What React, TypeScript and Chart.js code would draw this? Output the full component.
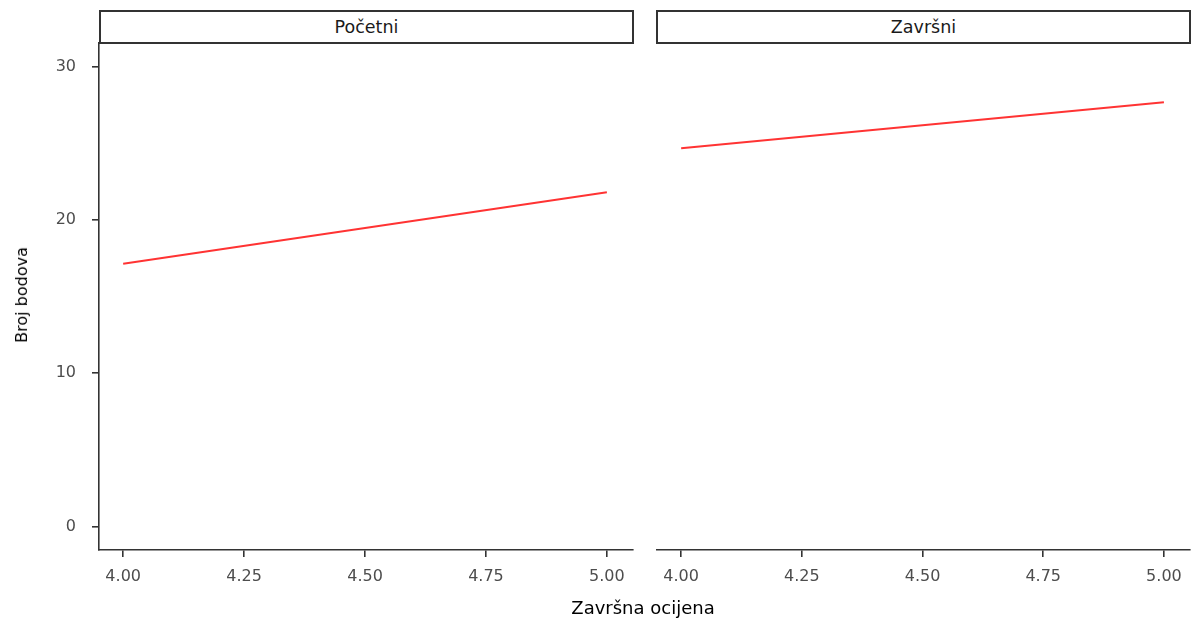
import React, { useEffect, useRef } from "react";
import { Chart, registerables } from "chart.js";

Chart.register(...registerables);

const PANELS = ["Početni", "Završni"];
const X_VALUES = [4.0, 5.0];
const POCETNI_VALUES = [17.14, 21.8];
const ZAVRSNI_VALUES = [24.67, 27.67];
const X_TICKS = [4.0, 4.25, 4.5, 4.75, 5.0];
const Y_TICKS = [0, 10, 20, 30];
const X_TITLE = "Završna ocijena";
const Y_TITLE = "Broj bodova";

const FONT = "'DejaVu Sans', sans-serif";
const AXIS_COLOR = "#333333";
const TICK_TEXT = "#4d4d4d";

function makeConfig(values: number[], showY: boolean): any {
  return {
    type: "line",
    data: {
      datasets: [
        {
          data: X_VALUES.map((x, i) => ({ x, y: values[i] })),
          borderColor: "#ff3333",
          borderWidth: 2,
          pointRadius: 0,
          fill: false,
          tension: 0,
        },
      ],
    },
    options: {
      animation: false,
      responsive: false,
      devicePixelRatio: 1,
      layout: {
        padding: showY
          ? { top: 43, left: 0, right: 12, bottom: 0 }
          : { top: 43, left: 12, right: 6, bottom: 0 },
      },
      plugins: { legend: { display: false }, tooltip: { enabled: false } },
      scales: {
        x: {
          type: "linear",
          min: 3.95,
          max: 5.054,
          afterBuildTicks: (s: any) => {
            s.ticks = X_TICKS.map((v) => ({ value: v }));
          },
          afterFit: (s: any) => {
            s.height = 72;
          },
          border: { display: true, color: AXIS_COLOR, width: 1.6 },
          grid: {
            display: true,
            drawOnChartArea: false,
            drawTicks: true,
            tickLength: 7,
            color: AXIS_COLOR,
            lineWidth: 1.6,
          },
          ticks: {
            autoSkip: false,
            maxRotation: 0,
            padding: 10,
            color: TICK_TEXT,
            font: { family: FONT, size: 16 },
            callback: (v: any) => Number(v).toFixed(2),
          },
        },
        y: {
          display: showY,
          min: -1.53,
          max: 31.54,
          afterBuildTicks: (s: any) => {
            s.ticks = Y_TICKS.map((v) => ({ value: v }));
          },
          afterFit: (s: any) => {
            s.width = showY ? 99 : 0;
          },
          border: { display: true, color: AXIS_COLOR, width: 1.6 },
          grid: {
            display: true,
            drawOnChartArea: false,
            drawTicks: true,
            tickLength: 7,
            color: AXIS_COLOR,
            lineWidth: 1.6,
          },
          ticks: {
            padding: 16,
            color: TICK_TEXT,
            font: { family: FONT, size: 16 },
            callback: (v: any) => String(v),
          },
        },
      },
    },
  };
}

export default function App() {
  const leftRef = useRef<HTMLCanvasElement>(null);
  const rightRef = useRef<HTMLCanvasElement>(null);

  useEffect(() => {
    const c1 = new Chart(leftRef.current as HTMLCanvasElement, makeConfig(POCETNI_VALUES, true));
    const c2 = new Chart(rightRef.current as HTMLCanvasElement, makeConfig(ZAVRSNI_VALUES, false));
    return () => {
      c1.destroy();
      c2.destroy();
    };
  }, []);

  const stripStyle = (left: number, width: number): React.CSSProperties => ({
    position: "absolute",
    left,
    top: 10,
    width,
    height: 34,
    boxSizing: "border-box",
    border: "2px solid #333",
    background: "#fff",
    display: "flex",
    alignItems: "center",
    justifyContent: "center",
    fontFamily: FONT,
    fontSize: 17.5,
    color: "#1a1a1a",
  });

  return (
    <div
      style={{
        position: "fixed",
        left: 0,
        top: 0,
        width: 1196,
        height: 622,
        background: "#fff",
        overflow: "hidden",
      }}
    >
      <canvas
        ref={leftRef}
        width={645}
        height={622}
        style={{ position: "absolute", left: 0, top: 0, width: 645, height: 622 }}
      />
      <canvas
        ref={rightRef}
        width={551}
        height={622}
        style={{ position: "absolute", left: 645, top: 0, width: 551, height: 622 }}
      />
      <div style={stripStyle(99, 535)}>{PANELS[0]}</div>
      <div style={stripStyle(656, 535)}>{PANELS[1]}</div>
      <div
        style={{
          position: "absolute",
          left: 0,
          width: 1286,
          top: 596,
          textAlign: "center",
          fontFamily: FONT,
          fontSize: 18,
          color: "#000",
          lineHeight: "24px",
        }}
      >
        {X_TITLE}
      </div>
      <div
        style={{
          position: "absolute",
          left: 22,
          top: 295,
          transform: "translate(-50%, -50%) rotate(-90deg)",
          whiteSpace: "nowrap",
          fontFamily: FONT,
          fontSize: 16,
          color: "#000",
          lineHeight: "20px",
        }}
      >
        {Y_TITLE}
      </div>
    </div>
  );
}
